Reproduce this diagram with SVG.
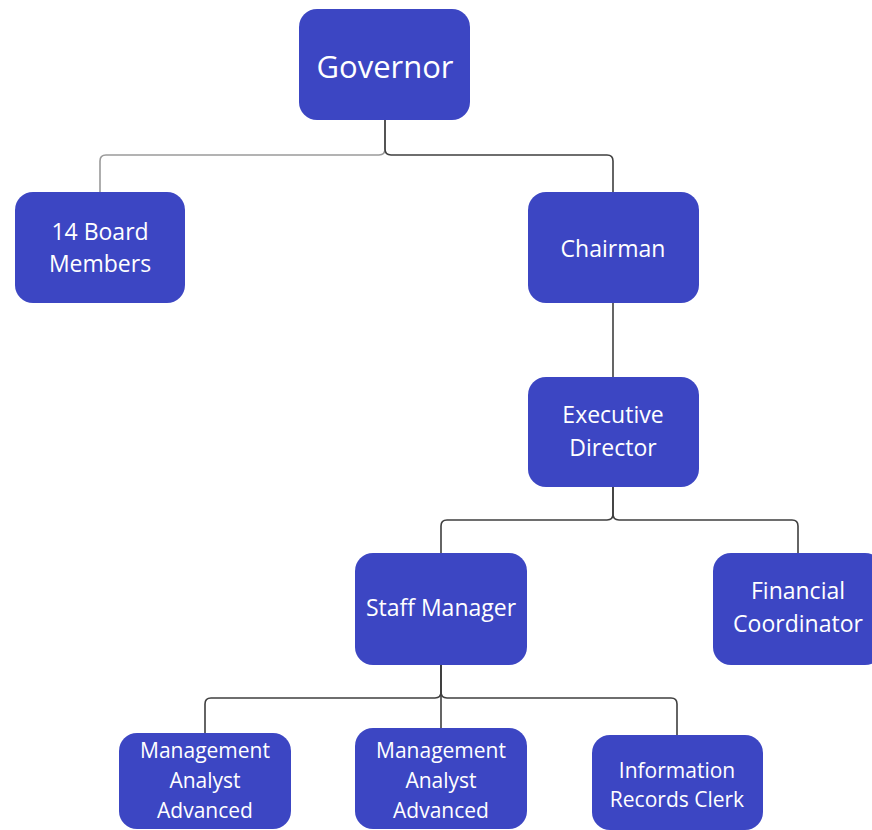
<svg xmlns="http://www.w3.org/2000/svg" width="872" height="830" viewBox="0 0 872 830">
<style>
.box{fill:#3C46C3;}
.t{font-family:"Open Sans","Noto Sans","Liberation Sans",sans-serif;fill:#ffffff;text-anchor:middle;font-size:23px;}
.big{font-size:31px;}
.sm{font-size:21px;}
.c{fill:none;stroke:#3f3f3f;stroke-width:1.6;}
.cl{fill:none;stroke:#9a9a9a;stroke-width:1.6;}
</style>
<rect width="872" height="830" fill="#ffffff"/>
<g id="connectors">
<path class="cl" d="M385,120 V149 Q385,155 379,155 H106 Q100,155 100,161 V192"/>
<path class="c" d="M385,120 V149 Q385,155 391,155 H607 Q613,155 613,161 V192"/>
<path class="c" d="M613,303 V377"/>
<path class="c" d="M613,487 V514 Q613,520 607,520 H447 Q441,520 441,526 V553"/>
<path class="c" d="M613,487 V514 Q613,520 619,520 H792 Q798,520 798,526 V553"/>
<path class="c" d="M441,665 V692 Q441,698 435,698 H211 Q205,698 205,704 V733"/>
<path class="c" d="M441,665 V728"/>
<path class="c" d="M441,665 V692 Q441,698 447,698 H671 Q677,698 677,704 V735"/>
</g>
<g id="governor"><rect class="box" x="299" y="9" width="171" height="111" rx="18"/><text class="t big" x="385" y="78">Governor</text></g>
<g id="board"><rect class="box" x="15" y="192" width="170" height="111" rx="18"/><text class="t" x="100" y="240">14 Board</text><text class="t" x="100" y="272">Members</text></g>
<g id="chairman"><rect class="box" x="528" y="192" width="171" height="111" rx="18"/><text class="t" x="613" y="257">Chairman</text></g>
<g id="executive"><rect class="box" x="528" y="377" width="171" height="110" rx="18"/><text class="t" x="613" y="423">Executive</text><text class="t" x="613" y="456">Director</text></g>
<g id="staff"><rect class="box" x="355" y="553" width="172" height="112" rx="18"/><text class="t" x="441" y="616">Staff Manager</text></g>
<g id="financial"><rect class="box" x="713" y="553" width="170" height="112" rx="18"/><text class="t" x="798" y="599">Financial</text><text class="t" x="798" y="632">Coordinator</text></g>
<g id="analyst1"><rect class="box" x="119" y="733" width="172" height="96" rx="18"/><text class="t sm" x="205" y="758">Management</text><text class="t sm" x="205" y="788">Analyst</text><text class="t sm" x="205" y="818">Advanced</text></g>
<g id="analyst2"><rect class="box" x="355" y="728" width="172" height="101" rx="18"/><text class="t sm" x="441" y="758">Management</text><text class="t sm" x="441" y="788">Analyst</text><text class="t sm" x="441" y="818">Advanced</text></g>
<g id="clerk"><rect class="box" x="592" y="735" width="171" height="95" rx="18"/><text class="t sm" x="677" y="778">Information</text><text class="t sm" x="677" y="807">Records Clerk</text></g>
</svg>
